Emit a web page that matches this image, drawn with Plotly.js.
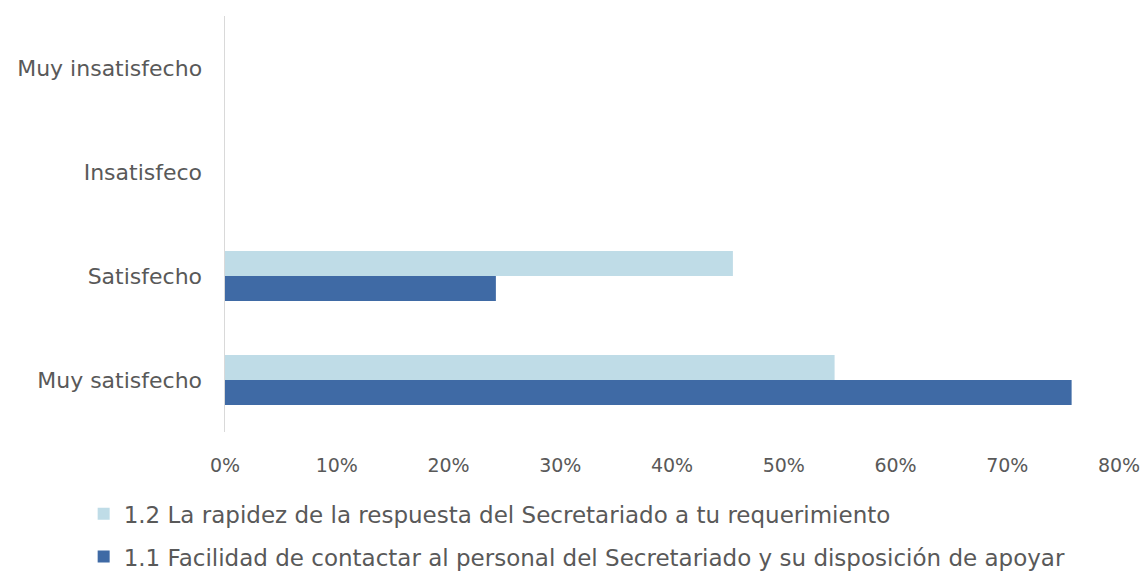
<!DOCTYPE html>
<html>
<head>
<meta charset="utf-8">
<script src="https://cdn.plot.ly/plotly-3.0.1.min.js"></script>
<style>html,body{margin:0;padding:0;background:#fff;}#chart{width:1146px;height:573px;}</style>
</head>
<body>
<div id="chart"></div>
<script>
const categories = ["Muy satisfecho", "Satisfecho", "Insatisfeco", "Muy insatisfecho"];
const seriesNames = [
  "1.1 Facilidad de contactar al personal del Secretariado y su disposición de apoyar",
  "1.2 La rapidez de la respuesta del Secretariado a tu requerimiento"
];
const facilidad = [0.7576, 0.2424, 0, 0];
const rapidez = [0.5455, 0.4545, 0, 0];
const tickVals = [0, 0.1, 0.2, 0.3, 0.4, 0.5, 0.6, 0.7, 0.8];

const font = "'Century Gothic', 'DejaVu Sans', sans-serif";
const traces = [
  {type: "bar", orientation: "h", name: seriesNames[0], x: facilidad, y: categories,
   marker: {color: "#3F6AA5"}, legendrank: 2, legendgroup: "g11"},
  {type: "bar", orientation: "h", name: seriesNames[1], x: rapidez, y: categories,
   marker: {color: "#BFDCE7"}, legendrank: 1, legendgroup: "g12"}
];
const layout = {
  width: 1146, height: 573,
  margin: {l: 225, r: 27, t: 16, b: 141, autoexpand: false},
  barmode: "group", bargap: 0.52, bargroupgap: 0,
  font: {family: font, size: 20, color: "#595959"},
  paper_bgcolor: "#fff", plot_bgcolor: "#fff",
  xaxis: {range: [0, 0.8], tickvals: tickVals, tickformat: ".0%", showgrid: false,
          zeroline: false, showline: false, ticks: "", fixedrange: true,
          ticklabelstandoff: 20, automargin: false, tickangle: 0,
          tickfont: {size: 19, color: "#595959"}},
  yaxis: {type: "category", categoryorder: "array", categoryarray: categories,
          showline: true, linecolor: "#D9D9D9", linewidth: 1.5, showgrid: false,
          ticks: "", zeroline: false, range: [-0.5, 3.5], automargin: false,
          ticklabelstandoff: 17,
          tickfont: {size: 22, color: "#595959"}},
  showlegend: true,
  legend: {orientation: "v", xref: "container", yref: "container",
           x: 0.073, xanchor: "left", y: 0.141, yanchor: "top",
           traceorder: "grouped", tracegroupgap: 10,
           font: {size: 23, color: "#595959"}, itemwidth: 30}
};
Plotly.newPlot("chart", traces, layout, {displayModeBar: false, staticPlot: true});
</script>
</body>
</html>
